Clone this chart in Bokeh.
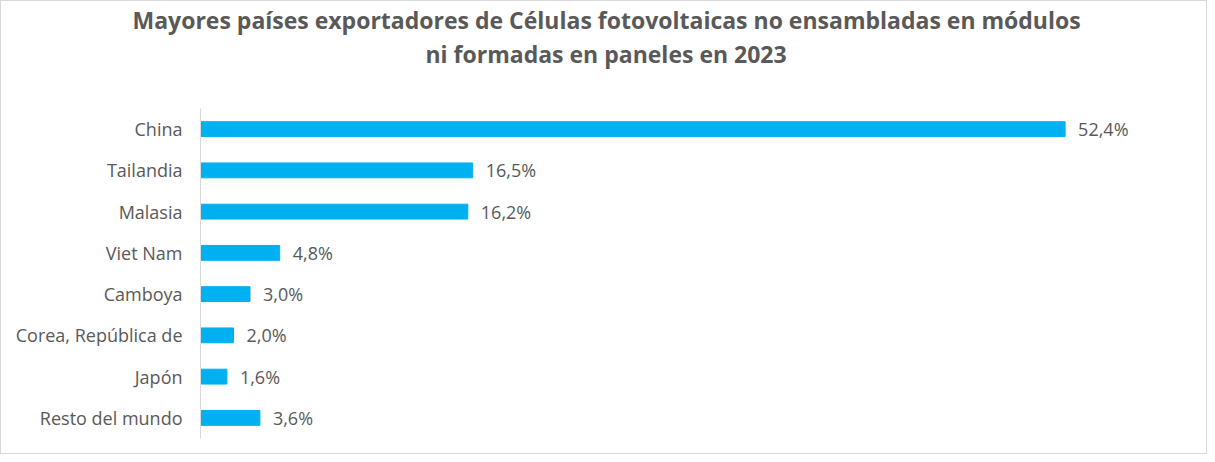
from bokeh.plotting import figure
from bokeh.models import ColumnDataSource, Title, Range1d, FactorRange
from bokeh.embed import file_html
from bokeh.resources import INLINE
from bokeh.core.properties import value

countries = ["China", "Tailandia", "Malasia", "Viet Nam", "Camboya",
             "Corea, República de", "Japón", "Resto del mundo"]
shares = [52.4, 16.5, 16.2, 4.8, 3.0, 2.0, 1.6, 3.6]
labels = [f"{v:.1f}%".replace(".", ",") for v in shares]

title_lines = ["Mayores países exportadores de Células fotovoltaicas no ensambladas en módulos",
               "ni formadas en paneles en 2023"]

FONT = "Open Sans"
GRAY = "#595959"

src = ColumnDataSource(dict(country=countries, share=shares, label=labels))

W, H = 1207, 454
LEFT, BOTTOM, TOP = 199, 17, 107
p = figure(width=W, height=H, output_backend="svg", toolbar_location=None,
           y_range=FactorRange(factors=list(reversed(countries))),
           x_range=Range1d(0, 60),
           min_border_left=LEFT, min_border_right=18, min_border_top=TOP,
           min_border_bottom=BOTTOM,
           styles={"border": "1px solid #d9d9d9"})

p.hbar(y="country", right="share", height=0.36, source=src, color="#00B0F0")
p.text(x="share", y="country", text="label", source=src, x_offset=13,
       text_baseline="middle", text_align="left", text_color=GRAY,
       text_font=value(FONT), text_font_size="18px")

# spacer between frame and the title lines
p.add_layout(Title(text=" ", standoff=36, text_font_size="1px"), "above")
# second line sits closest to the frame, first line above it
title_offsets = [-68, 225]
for line, off in reversed(list(zip(title_lines, title_offsets))):
    p.add_layout(Title(text=line, align="left", offset=off, standoff=0,
                       text_font=FONT, text_font_size="23px", text_font_style="bold",
                       text_color=GRAY), "above")

p.xaxis.visible = False
p.xgrid.visible = False
p.ygrid.visible = False
p.outline_line_color = None
p.yaxis.axis_line_color = "#d9d9d9"
p.yaxis.major_tick_line_color = None
p.yaxis.minor_tick_line_color = None
p.yaxis.major_label_standoff = 12
p.yaxis.major_label_text_font = FONT
p.yaxis.major_label_text_font_size = "18px"
p.yaxis.major_label_text_color = GRAY
p.y_range.range_padding = 0.0
p.y_range.factor_padding = 0.0

open("out.html", "w").write(file_html(p, INLINE))
